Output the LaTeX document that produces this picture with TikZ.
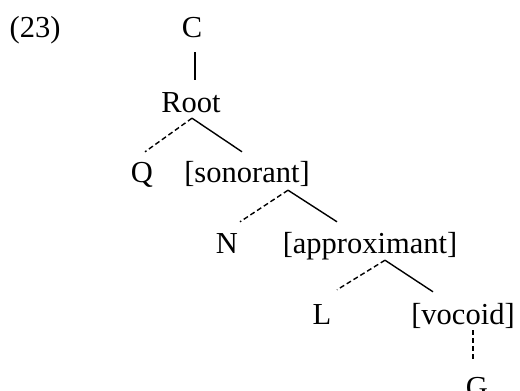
\documentclass[tikz,border=0pt]{standalone}
\usepackage{fontspec}
\setmainfont{Liberation Serif}

\tikzset{
	seg/.style={anchor=base, inner sep=0pt, text height=20pt, text depth=0pt, font=\fontsize{30.5}{36}\selectfont},
	tie/.style={line width=1.4pt},
	weak/.style={line width=1.4pt, dash pattern=on 5pt off 3pt}
}

\begin{document}
\begin{tikzpicture}[x=1pt, y=-1pt]
				\useasboundingbox (0,0) rectangle (520,391);
				%Numero
				\node[seg] (num) at (35,37) {(23)};
				%Nodes
				\node[seg] (c) at (192,37) {C};
				\node[seg] (root) at (191,112) {Root};
				\node[seg] (q) at (142,182) {Q};
				\node[seg] (son) at (247,182) {[sonorant]};
				\node[seg] (n) at (227,253) {N};
				\node[seg] (appr) at (370,253) {[approximant]};
				\node[seg] (l) at (322,324) {L};
				\node[seg] (voc) at (463,324) {[vocoid]};
				\node[seg] (g) at (477,397) {G};
				%Linies
				\draw[tie] ([xshift=3pt,yshift=-15pt]c.south) -- ([xshift=4pt,yshift=12pt]root.north);
				\draw[weak] ([xshift=1pt,yshift=-6pt]root.south) -- ([xshift=3pt,yshift=10pt]q.north);
				\draw[tie] ([xshift=1pt,yshift=-6pt]root.south) -- ([xshift=-5pt,yshift=10pt]son.north);
				\draw[weak] ([xshift=41pt,yshift=-8pt]son.south) -- ([xshift=13pt,yshift=11pt]n.north);
				\draw[tie] ([xshift=41pt,yshift=-8pt]son.south) -- ([xshift=-33pt,yshift=11pt]appr.north);
				\draw[weak] ([xshift=15pt,yshift=-7pt]appr.south) -- ([xshift=15pt,yshift=14pt]l.north);
				\draw[tie] ([xshift=15pt,yshift=-7pt]appr.south) -- ([xshift=-30pt,yshift=12pt]voc.north);
				\draw[weak] ([xshift=10pt,yshift=-6pt]voc.south) -- ([xshift=-4pt,yshift=15pt]g.north);
			\end{tikzpicture}
\end{document}
